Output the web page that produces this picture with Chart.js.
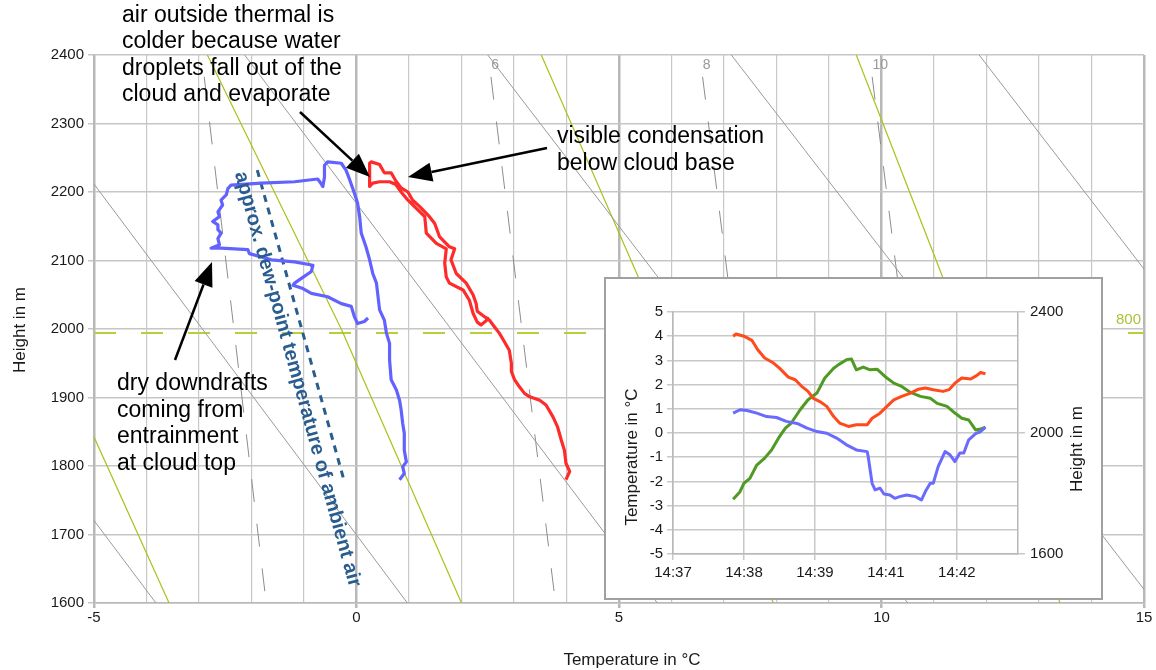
<!DOCTYPE html>
<html><head><meta charset="utf-8">
<script src="https://cdn.jsdelivr.net/npm/chart.js@4.4.1/dist/chart.umd.min.js"></script>
<style>
html,body{margin:0;padding:0;background:#fff;}
#wrap{position:relative;width:1156px;height:670px;overflow:hidden;}
#main{position:absolute;left:0;top:0;}
#insetBox{position:absolute;left:604px;top:277px;width:495px;height:319px;border:2px solid #a0a0a0;background:#fff;}
#inset{position:absolute;left:0;top:0;}
</style></head><body>
<div id="wrap">
<canvas id="main" width="1156" height="670"></canvas>
<div id="insetBox"><canvas id="inset" width="495" height="319"></canvas></div>
</div>
<script>
// ===== Main chart data (temperature °C vs height m) =====
const redT = [3.99,4.06,3.99,3.96,3.90,3.83,3.74,3.61,3.49,3.30,3.20,3.10,3.01,2.95,2.95,2.91,2.82,2.72,2.63,2.53,2.40,2.30,2.28,2.22,2.09,1.90,1.80,1.87,1.77,1.58,1.49,1.39,1.20,1.07,0.98,0.85,0.75,0.66,0.53,0.44,0.28,0.25,0.25,0.25,
              0.31,0.44,0.63,0.75,0.85,0.98,1.10,1.30,1.33,1.52,1.71,1.68,1.71,1.77,2.03,2.15,2.22,2.30,2.37,2.47,2.50];
const redH = [1780,1792,1804,1823,1838,1857,1872,1889,1896,1901,1906,1916,1926,1938,1950,1969,1981,1994,2003,2013,2020,2026,2037,2050,2067,2081,2101,2117,2120,2135,2154,2164,2179,2188,2200,2206,2216,2228,2228,2240,2244,2242,2225,2208,
              2213,2215,2215,2211,2200,2188,2179,2164,2140,2125,2117,2096,2076,2067,2057,2042,2023,2010,2006,2012,2018];
const blueT = [0.82,0.91,0.88,0.95,0.91,0.91,0.88,0.85,0.82,0.76,0.66,0.63,0.63,0.57,0.53,0.44,0.38,0.31,0.25,0.18,0.09,0.06,0.02,-0.04,-0.13,-0.20,-0.29,-0.55,-0.61,-0.61,-0.64,-0.70,-0.74,
               -1.18,-1.82,-2.39,-2.45,-2.48,-2.58,-2.55,-2.64,-2.61,-2.74,-2.64,-2.64,-2.58,-2.64,-2.61,-2.77,-2.58,-2.07,-2.04,-1.62,-1.18,-0.83,-0.86,-1.05,-1.18,-1.21,-1.02,-0.86,-0.55,-0.29,-0.10,-0.04,0.02,0.15,0.22];
const blueH = [1780,1789,1799,1806,1823,1848,1862,1882,1896,1911,1926,1955,1979,1994,2013,2028,2067,2081,2101,2120,2140,2164,2184,2198,2218,2232,2242,2244,2239,2222,2208,2215,2219,
               2215,2213,2210,2205,2196,2188,2181,2171,2164,2157,2152,2145,2140,2132,2123,2118,2118,2116,2110,2101,2098,2093,2084,2074,2067,2064,2059,2052,2047,2037,2033,2018,2008,2011,2016];

// background diagram lines (temperature at given heights)
const dryT2400 = [-11.66,-6.84,-2.13,2.5,7.14,11.86];
const dryT1600 = [-3.82,0.97,5.73,10.5,15.2,19.9];
const moistT2400 = [-8.6,-2.84,3.52,9.52];
const moistT2000 = [-5.93,-0.29,5.8,11.55];
const moistT1600 = [-3.57,2.0,7.94,13.4];
const mixT2400 = [-2.95,2.51,6.54,9.77];
const mixT1600 = [-1.72,3.79,7.85,11.08];
const mixLabels = ['', '6', '8', '10'];
const isobarHeight = 1994;
const isobarLabel = '800';
const dewLineT = [-1.89,-0.23];
const dewLineH = [2232,1777];

// ===== Inset data (seconds after 14:37:00) =====
const insetTickSeconds = [0,72,144,216,288];
const insetTickLabels = ['14:37','14:38','14:39','14:41','14:42'];
const insetRedSec = [61,64,72,80,86,93,102,108,117,124,130,137,142,149,156,163,169,178,186,197,202,210,217,224,232,241,249,256,264,274,280,286,293,302,308,312,317];
const insetRedTemp = [4.0,4.09,4.0,3.83,3.44,3.10,2.89,2.68,2.31,2.2,1.95,1.72,1.44,1.3,1.10,0.68,0.41,0.27,0.34,0.34,0.61,0.82,1.1,1.37,1.51,1.65,1.81,1.86,1.79,1.72,1.79,2.06,2.27,2.23,2.37,2.50,2.45];
const insetBlueSec = [61,68,75,85,95,105,115,127,136,146,156,166,176,186,197,198,202,205,210,214,220,225,230,237,246,252,256,261,264,269,276,281,286,291,295,300,307,312,317];
const insetBlueTemp = [0.82,0.96,0.93,0.82,0.68,0.64,0.48,0.38,0.20,0.06,-0.01,-0.21,-0.49,-0.70,-0.77,-0.97,-2.08,-2.35,-2.28,-2.52,-2.56,-2.70,-2.63,-2.56,-2.63,-2.77,-2.42,-2.08,-2.08,-1.39,-0.77,-0.90,-1.18,-0.83,-0.83,-0.28,-0.03,0.06,0.24];
const insetHeightSec = [61,68,72,78,85,93,100,107,114,120,129,137,146,154,163,168,176,181,186,193,200,207,215,224,232,241,251,261,268,278,286,293,300,307,312,317];
const insetHeight = [1781,1806,1834,1850,1894,1917,1944,1983,2016,2033,2077,2110,2132,2182,2214,2226,2242,2245,2209,2218,2209,2211,2187,2165,2154,2134,2121,2115,2098,2088,2066,2049,2043,2010,2013,2019];

// ===== helpers =====
const FONT = '"Liberation Sans", Arial, sans-serif';
Chart.defaults.font.family = FONT;
Chart.defaults.animation = false;
const pts = (xs, ys) => xs.map((v, i) => ({x: v, y: ys[i]}));
const lineDs = (data, color, width, extra) => Object.assign({
  data, showLine: true, pointRadius: 0, pointHoverRadius: 0, borderColor: color, backgroundColor: color,
  borderWidth: width, fill: false, tension: 0, borderJoinStyle: 'round', borderCapStyle: 'butt'
}, extra || {});

// ===== main datasets =====
const mainDatasets = [];
mainDatasets.push(lineDs(pts(redT, redH), '#ff2b2b', 3.2));
mainDatasets.push(lineDs(pts(blueT, blueH), '#6262ff', 3.2));
mainDatasets.push(lineDs(pts(dewLineT, dewLineH), '#2a5d8f', 3, {borderDash: [7, 6]}));
dryT2400.forEach((t, i) => mainDatasets.push(lineDs(pts([t, dryT1600[i]], [2400, 1600]), '#9a9a9a', 1)));
moistT2400.forEach((t, i) => mainDatasets.push(lineDs(pts([t, moistT2000[i], moistT1600[i]], [2400, 2000, 1600]), '#a9c21a', 1.2)));
mixT2400.forEach((t, i) => mainDatasets.push(lineDs(pts([t, mixT1600[i]], [2400, 1600]), '#8c8c8c', 1, {borderDash: [23, 22], borderDashOffset: 23})));
mainDatasets.push(lineDs(pts([-5, 15], [isobarHeight, isobarHeight]), '#b8cf3a', 2, {borderDash: [22, 25]}));

function arrow(ctx, x1, y1, x2, y2) {
  const a = Math.atan2(y2 - y1, x2 - x1), L = 24, W = 9.5;
  const bx = x2 - L * Math.cos(a), by = y2 - L * Math.sin(a);
  ctx.beginPath(); ctx.moveTo(x1, y1); ctx.lineTo(bx, by); ctx.lineWidth = 2.5; ctx.strokeStyle = '#000'; ctx.stroke();
  ctx.beginPath(); ctx.moveTo(x2, y2);
  ctx.lineTo(bx + W * Math.sin(a), by - W * Math.cos(a));
  ctx.lineTo(bx - W * Math.sin(a), by + W * Math.cos(a));
  ctx.closePath(); ctx.fillStyle = '#000'; ctx.fill();
}

const mainText = {
  id: 'mainText',
  afterDraw(chart) {
    const {ctx, scales: {x, y}, chartArea} = chart;
    ctx.save();
    ctx.textBaseline = 'middle';
    ctx.font = '15px ' + FONT; ctx.fillStyle = '#a9c33b'; ctx.textAlign = 'right';
    ctx.fillText(isobarLabel, chartArea.right - 3, y.getPixelForValue(isobarHeight) - 13);
    ctx.font = '14px ' + FONT; ctx.fillStyle = '#9a9a9a'; ctx.textAlign = 'left';
    mixLabels.forEach((lab, i) => { if (lab) ctx.fillText(lab, x.getPixelForValue(mixT2400[i]) + 3, chartArea.top + 10); });
    ctx.fillStyle = '#1a1a1a'; ctx.font = '17px ' + FONT; ctx.textAlign = 'center';
    ctx.fillText('Temperature in °C', 632, 660);
    ctx.save(); ctx.translate(20, 330); ctx.rotate(-Math.PI / 2); ctx.fillText('Height in m', 0, 0); ctx.restore();
    ctx.fillStyle = '#000'; ctx.font = '23px ' + FONT; ctx.textAlign = 'left'; ctx.textBaseline = 'alphabetic';
    ['air outside thermal is', 'colder because water', 'droplets fall out of the', 'cloud and evaporate']
      .forEach((s, i) => ctx.fillText(s, 122, 21.5 + 26.5 * i));
    ['visible condensation', 'below cloud base'].forEach((s, i) => ctx.fillText(s, 557, 143 + 26.5 * i));
    ['dry downdrafts', 'coming from', 'entrainment', 'at cloud top'].forEach((s, i) => ctx.fillText(s, 117, 390 + 26.5 * i));
    arrow(ctx, 300, 112, 370, 177);
    arrow(ctx, 547, 148, 408, 177);
    arrow(ctx, 175, 360, 212, 262);
    ctx.save(); ctx.translate(240, 172); ctx.rotate(74.5 * Math.PI / 180);
    ctx.fillStyle = '#2a5d8f'; ctx.font = 'bold 20px ' + FONT; ctx.textBaseline = 'middle';
    ctx.fillText('approx. dew-point temperature of ambient air', 0, 0);
    ctx.restore();
    ctx.restore();
  }
};

const isMajor = c => c.tick && Math.abs(c.tick.value % 5) < 1e-9;
new Chart(document.getElementById('main'), {
  type: 'scatter',
  data: {datasets: mainDatasets},
  options: {
    responsive: false, animation: false, events: [],
    layout: {padding: {top: 55, right: 12, left: 0, bottom: 0}},
    plugins: {legend: {display: false}, tooltip: {enabled: false}},
    scales: {
      x: {type: 'linear', min: -5, max: 15, afterFit: s => { s.height = 67; },
        ticks: {stepSize: 1, autoSkip: false, maxRotation: 0, padding: 1, color: '#1a1a1a', font: {size: 15},
          callback: v => (Math.abs(v % 5) < 1e-9 ? String(v) : '')},
        grid: {color: c => isMajor(c) ? '#b8b8b8' : '#c8c8c8', lineWidth: c => isMajor(c) ? 2.5 : 1.2,
          tickLength: 5, tickColor: c => isMajor(c) ? '#b8b8b8' : 'rgba(0,0,0,0)'},
        border: {color: '#b8b8b8', width: 1.5}},
      y: {type: 'linear', min: 1600, max: 2400, afterFit: s => { s.width = 94; },
        ticks: {stepSize: 100, padding: 4, color: '#1a1a1a', font: {size: 15}, callback: v => String(v)},
        grid: {color: '#c6c6c6', lineWidth: 1.5, tickLength: 6},
        border: {color: '#b8b8b8', width: 1.5}}
    }
  },
  plugins: [mainText]
});

// ===== inset chart =====
const insetText = {
  id: 'insetText',
  afterDraw(chart) {
    const ctx = chart.ctx;
    ctx.save(); ctx.fillStyle = '#1a1a1a'; ctx.font = '17px ' + FONT; ctx.textAlign = 'center'; ctx.textBaseline = 'middle';
    ctx.save(); ctx.translate(26, 178); ctx.rotate(-Math.PI / 2); ctx.fillText('Temperature in °C', 0, 0); ctx.restore();
    ctx.save(); ctx.translate(471, 170); ctx.rotate(-Math.PI / 2); ctx.fillText('Height in m', 0, 0); ctx.restore();
    ctx.restore();
  }
};
new Chart(document.getElementById('inset'), {
  type: 'scatter',
  data: {datasets: [
    lineDs(pts(insetRedSec, insetRedTemp), '#ff4a1c', 3, {yAxisID: 'y'}),
    lineDs(pts(insetBlueSec, insetBlueTemp), '#6a6aff', 3, {yAxisID: 'y'}),
    lineDs(pts(insetHeightSec, insetHeight), '#4e9a22', 3, {yAxisID: 'y2'})
  ]},
  options: {
    responsive: false, animation: false, events: [],
    layout: {padding: {top: 33, right: 0, left: 0, bottom: 0}},
    plugins: {legend: {display: false}, tooltip: {enabled: false}},
    scales: {
      x: {type: 'linear', min: 0, max: 350, afterFit: s => { s.height = 44; },
        afterBuildTicks: s => { s.ticks = insetTickSeconds.map(v => ({value: v})); },
        ticks: {autoSkip: false, maxRotation: 0, padding: 4, color: '#1a1a1a', font: {size: 15},
          callback: v => { const i = insetTickSeconds.indexOf(v); return i >= 0 ? insetTickLabels[i] : ''; }},
        grid: {color: '#c8c8c8', lineWidth: 1.5, tickLength: 6},
        border: {color: '#b8b8b8', width: 1.5}},
      y: {type: 'linear', position: 'left', min: -5, max: 5, afterFit: s => { s.width = 67; },
        ticks: {stepSize: 1, padding: 4, color: '#1a1a1a', font: {size: 15}},
        grid: {color: '#c8c8c8', lineWidth: 1.5, tickLength: 6},
        border: {color: '#b8b8b8', width: 1.5}},
      y2: {type: 'linear', position: 'right', min: 1600, max: 2400, afterFit: s => { s.width = 83; },
        ticks: {stepSize: 400, padding: 5, color: '#1a1a1a', font: {size: 15}, callback: v => String(v)},
        grid: {drawOnChartArea: false, color: '#c8c8c8', lineWidth: 1.5, tickLength: 7},
        border: {color: '#b8b8b8', width: 1.5}}
    }
  },
  plugins: [insetText]
});
</script>
</body></html>
